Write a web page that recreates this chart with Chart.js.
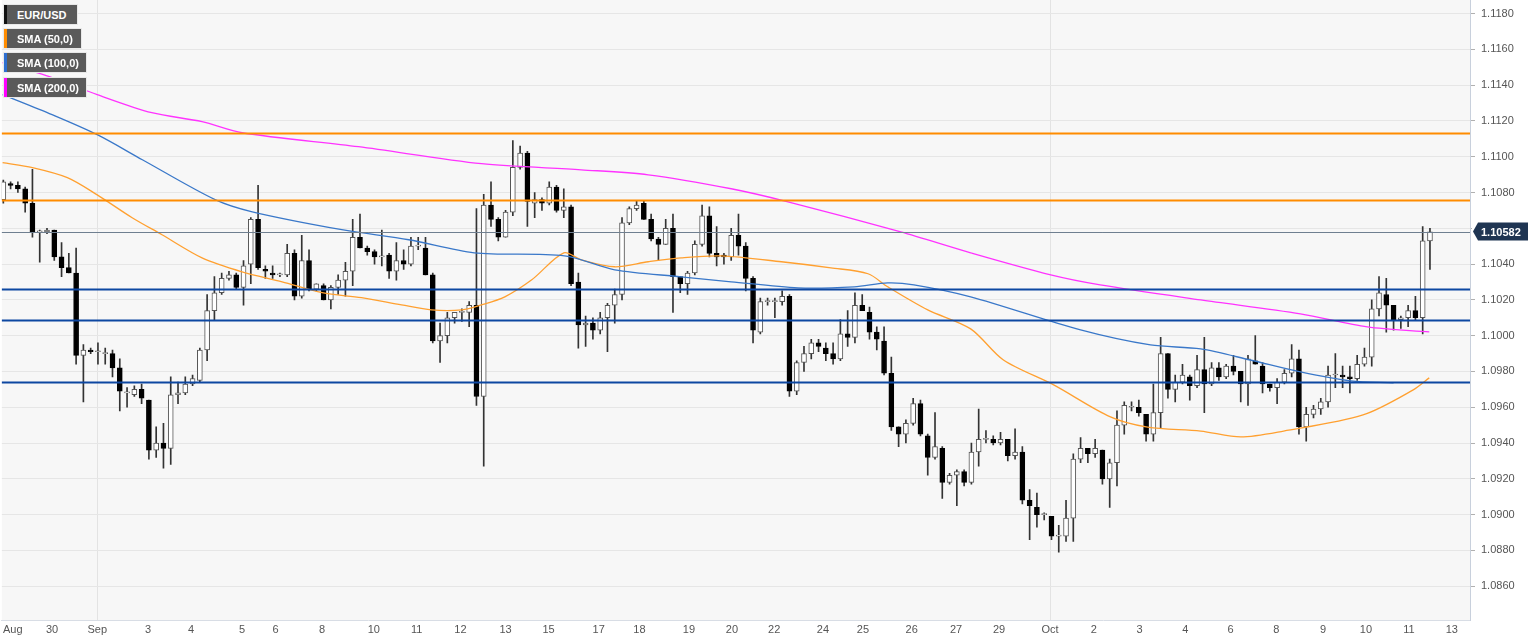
<!DOCTYPE html>
<html><head><meta charset="utf-8">
<script src="https://cdn.jsdelivr.net/npm/chart.js@4/dist/chart.umd.min.js"></script>
<style>
html,body{margin:0;padding:0;background:#fff;}
#wrap{position:relative;width:1536px;height:641px;overflow:hidden;}
#c{position:absolute;left:0px;top:-13px;}
.lg{position:absolute;left:4px;height:19px;display:flex;align-items:center;background:#5a5a5a;color:#fff;font:bold 11px "Liberation Sans",Arial,sans-serif;padding:0 0 0 10px;box-sizing:border-box;border-left:3px solid #000;outline:1px solid #e8e8e8;}
</style></head><body>
<div id="wrap"><canvas id="c" width="1536" height="654"></canvas>
<div class="lg" style="top:5px;width:73px;border-left-color:#111">EUR/USD</div>
<div class="lg" style="top:29px;width:77px;border-left-color:#ff8c00">SMA (50,0)</div>
<div class="lg" style="top:53px;width:82px;border-left-color:#2f6fd0">SMA (100,0)</div>
<div class="lg" style="top:78px;width:82px;border-left-color:#ff00ff">SMA (200,0)</div>
</div>
<script>
const opens=[1.1076,1.1085,1.1084,1.1082,1.1074,1.1058,1.1058,1.1059,1.1044,1.1038,
1.1035,1.0989,1.0992,1.0991,1.0990,1.0990,1.0982,1.0968,1.0967,1.0970,
1.0964,1.0936,1.0940,1.0937,1.0967,1.0968,1.0973,1.0975,1.0992,1.1014,
1.1024,1.1032,1.1034,1.1027,1.1040,1.1065,1.1037,1.1035,1.1034,1.1034,
1.1046,1.1022,1.1042,1.1026,1.1028,1.1020,1.1027,1.1031,1.1036,1.1055,
1.1049,1.1047,1.1044,1.1045,1.1036,1.1042,1.1040,1.1050,1.1049,1.1034,
1.0997,1.1000,1.1010,1.1013,1.1013,1.1017,1.0966,1.1073,1.1065,1.1055,
1.1069,1.1094,1.1102,1.1074,1.1076,1.1074,1.1083,1.1070,1.1072,1.1030,
1.1006,1.1007,1.1003,1.1010,1.1017,1.1023,1.1063,1.1071,1.1074,1.1065,
1.1054,1.1051,1.1060,1.1033,1.1029,1.1035,1.1051,1.1067,1.1046,1.1045,
1.1044,1.1056,1.1050,1.1032,1.1002,1.1019,1.1019,1.1019,1.1022,1.0969,
1.0985,1.0990,1.0996,1.0993,1.0990,1.0987,1.1001,1.0999,1.1017,1.1013,
1.1002,1.0997,1.0979,1.0949,1.0945,1.0951,1.0962,1.0944,1.0932,1.0937,
1.0918,1.0922,1.0924,1.0918,1.0935,1.0942,1.0942,1.0940,1.0942,1.0933,
1.0935,1.0908,1.0904,1.0900,1.0899,1.0888,1.0888,1.0898,1.0931,1.0937,
1.0934,1.0936,1.0920,1.0929,1.0950,1.0960,1.0960,1.0956,1.0945,1.0957,
1.0990,1.0970,1.0974,1.0977,1.0972,1.0981,1.0973,1.0982,1.0977,1.0983,
1.0980,1.0973,1.0986,1.0983,1.0973,1.0971,1.0974,1.0979,1.0987,1.0949,
1.0956,1.0959,1.0963,1.0978,1.0978,1.0977,1.0976,1.0984,1.0988,1.1015,
1.1023,1.1017,1.1009,1.1010,1.1014,1.1010,1.1053];
const highs=[1.1087,1.1086,1.1086,1.1083,1.1093,1.1059,1.1060,1.1059,1.1052,1.1046,
1.1049,1.0995,1.0993,1.0996,1.0993,1.0992,1.0987,1.0971,1.0972,1.0973,
1.0964,1.0949,1.0951,1.0977,1.0974,1.0977,1.0978,1.0993,1.1023,1.1033,
1.1035,1.1036,1.1035,1.1042,1.1066,1.1084,1.1039,1.1039,1.1035,1.1051,
1.1048,1.1056,1.1048,1.1029,1.1029,1.1028,1.1034,1.1041,1.1065,1.1068,
1.1050,1.1048,1.1059,1.1046,1.1052,1.1048,1.1055,1.1055,1.1055,1.1035,
1.1007,1.1013,1.1013,1.1015,1.1019,1.1071,1.1079,1.1086,1.1066,1.1070,
1.1109,1.1106,1.1103,1.1080,1.1077,1.1086,1.1084,1.1082,1.1073,1.1035,
1.1011,1.1010,1.1013,1.1018,1.1026,1.1066,1.1072,1.1075,1.1075,1.1068,
1.1055,1.1065,1.1068,1.1033,1.1036,1.1053,1.1073,1.1072,1.1061,1.1046,
1.1060,1.1068,1.1052,1.1033,1.1021,1.1021,1.1021,1.1025,1.1023,1.0986,
1.0994,1.0998,1.0998,1.0996,1.0996,1.1009,1.1014,1.1024,1.1023,1.1016,
1.1005,1.1005,1.0988,1.0949,1.0953,1.0965,1.0964,1.0945,1.0957,1.0938,
1.0923,1.0925,1.0925,1.0940,1.0959,1.0947,1.0944,1.0946,1.0942,1.0948,
1.0938,1.0914,1.0912,1.0901,1.0899,1.0894,1.0908,1.0934,1.0943,1.0937,
1.0942,1.0936,1.0931,1.0958,1.0963,1.0963,1.0964,1.0956,1.0973,1.0999,
1.0990,1.0978,1.0984,1.0978,1.0989,1.0999,1.0985,1.0985,1.0984,1.0989,
1.0980,1.0989,1.1000,1.0985,1.0973,1.0976,1.0981,1.0995,1.0992,1.0960,
1.0961,1.0965,1.0983,1.0990,1.0983,1.0983,1.0989,1.0993,1.1020,1.1033,
1.1032,1.1017,1.1011,1.1017,1.1022,1.1061,1.1060];
const lows=[1.1074,1.1082,1.1080,1.1069,1.1055,1.1041,1.1057,1.1042,1.1033,1.1035,
1.0984,1.0963,1.0990,1.0984,1.0984,1.0977,1.0958,1.0960,1.0966,1.0962,
1.0931,1.0932,1.0926,1.0928,1.0962,1.0967,1.0972,1.0974,1.0986,1.1009,
1.1023,1.1031,1.1026,1.1017,1.1029,1.1037,1.1032,1.1032,1.1033,1.1033,
1.1020,1.1021,1.1025,1.1025,1.1020,1.1015,1.1023,1.1022,1.1028,1.1049,
1.1045,1.1040,1.1039,1.1032,1.1031,1.1037,1.1039,1.1048,1.1034,1.0996,
1.0985,1.0996,1.1007,1.1008,1.1005,1.0961,1.0927,1.1061,1.1053,1.1055,
1.1067,1.1093,1.1061,1.1066,1.1070,1.1073,1.1069,1.1066,1.1028,1.0993,
1.0994,1.0998,1.1001,1.0991,1.1007,1.1020,1.1062,1.1070,1.1065,1.1053,
1.1042,1.1051,1.1013,1.1024,1.1023,1.1034,1.1050,1.1044,1.1039,1.1040,
1.1042,1.1045,1.1025,1.0996,1.1001,1.1017,1.1010,1.1017,1.0966,1.0967,
1.0980,1.0987,1.0991,1.0986,1.0984,1.0986,1.0994,1.0996,1.1014,1.0998,
1.0992,1.0978,1.0947,1.0938,1.0940,1.0950,1.0944,1.0922,1.0931,1.0909,
1.0917,1.0905,1.0916,1.0917,1.0927,1.0940,1.0939,1.0939,1.0930,1.0931,
1.0906,1.0886,1.0893,1.0897,1.0886,1.0879,1.0885,1.0885,1.0929,1.0929,
1.0932,1.0917,1.0904,1.0916,1.0945,1.0958,1.0955,1.0941,1.0941,1.0948,
1.0965,1.0963,1.0973,1.0964,1.0971,1.0957,1.0972,1.0975,1.0976,1.0978,
1.0963,1.0961,1.0984,1.0968,1.0969,1.0962,1.0973,1.0977,1.0945,1.0941,
1.0954,1.0956,1.0960,1.0971,1.0971,1.0968,1.0975,1.0983,1.0983,1.1011,
1.1002,1.1003,1.1004,1.1005,1.1009,1.1001,1.1037];
const closes=[1.1086,1.1084,1.1082,1.1074,1.1058,1.1058,1.1059,1.1044,1.1038,1.1035,
1.0989,1.0992,1.0991,1.0991,1.0990,1.0982,1.0969,1.0968,1.0970,1.0965,
1.0936,1.0940,1.0937,1.0967,1.0968,1.0973,1.0976,1.0992,1.1014,1.1024,
1.1032,1.1034,1.1027,1.1039,1.1065,1.1038,1.1036,1.1034,1.1034,1.1046,
1.1022,1.1042,1.1026,1.1029,1.1020,1.1027,1.1031,1.1036,1.1055,1.1049,
1.1047,1.1044,1.1044,1.1036,1.1042,1.1040,1.1050,1.1050,1.1034,1.0997,
1.1000,1.1010,1.1013,1.1013,1.1017,1.0966,1.1073,1.1065,1.1055,1.1069,
1.1094,1.1102,1.1075,1.1076,1.1074,1.1083,1.1070,1.1072,1.1029,1.1006,
1.1007,1.1003,1.1010,1.1017,1.1023,1.1063,1.1071,1.1073,1.1065,1.1054,
1.1051,1.1060,1.1033,1.1029,1.1035,1.1051,1.1067,1.1046,1.1044,1.1044,
1.1056,1.1050,1.1032,1.1003,1.1019,1.1019,1.1019,1.1022,1.0969,1.0985,
1.0990,1.0996,1.0994,1.0990,1.0987,1.1001,1.0999,1.1017,1.1014,1.1002,
1.0998,1.0979,1.0949,1.0945,1.0951,1.0962,1.0945,1.0932,1.0938,1.0918,
1.0922,1.0924,1.0918,1.0935,1.0942,1.0942,1.0940,1.0942,1.0933,1.0935,
1.0908,1.0905,1.0900,1.0900,1.0888,1.0888,1.0898,1.0931,1.0937,1.0934,
1.0937,1.0920,1.0929,1.0950,1.0961,1.0960,1.0957,1.0945,1.0957,1.0990,
1.0970,1.0974,1.0978,1.0972,1.0981,1.0973,1.0982,1.0977,1.0983,1.0980,
1.0973,1.0987,1.0984,1.0973,1.0971,1.0974,1.0979,1.0987,1.0949,1.0956,
1.0959,1.0963,1.0978,1.0978,1.0977,1.0976,1.0984,1.0988,1.1015,1.1024,
1.1017,1.1009,1.1010,1.1014,1.1010,1.1053,1.1058];

// moving averages: [candle index, value]
const sma50=[[-0.1,1.10967],[4,1.10939],[8.8,1.10883],[12.9,1.10787],[17.7,1.10659],[21.8,1.10564],[27.3,1.10435],[32.8,1.10357],[38.3,1.10301],[43.8,1.1024],[49.2,1.10212],[54.7,1.10172],[58.8,1.10144],[63,1.10144],[65.7,1.10172],[68.9,1.10217],[72.6,1.10312],[77,1.10463],[79.4,1.10424],[84,1.10385],[88.6,1.10413],[93.1,1.10435],[98.6,1.10446],[106.9,1.10413],[113.7,1.10379],[118.8,1.10346],[121.5,1.10273],[127,1.10144],[132.9,1.10038],[137.4,1.09864],[144.3,1.09725],[152.1,1.09546],[157.2,1.09489],[164.5,1.09467],[170,1.09434],[175.9,1.09467],[186.8,1.09557],[193.7,1.09697],[195.9,1.09764]];
const sma100=[[-0.1,1.11347],[6.7,1.11235],[12.9,1.11123],[19.1,1.10983],[29.1,1.1076],[34.2,1.10692],[46.5,1.10592],[55.7,1.10536],[64.7,1.10463],[77.1,1.10446],[84,1.10368],[93.1,1.10329],[100,1.10301],[109.2,1.10267],[116.9,1.10273],[121.5,1.10295],[125.1,1.10284],[132.9,1.10217],[148,1.10032],[157.6,1.09948],[164.5,1.09926],[171.3,1.09864],[178.2,1.09797],[185.1,1.09747],[191,1.09736]];
const sma200=[[-0.1,1.11526],[6.7,1.11442],[12.9,1.11347],[20.4,1.11246],[27.3,1.11196],[32.8,1.11134],[48.8,1.11056],[65.7,1.10961],[79.4,1.10927],[88.6,1.10899],[100,1.10821],[107.8,1.10748],[123.3,1.1058],[132.9,1.10463],[143.9,1.1034],[150.7,1.10284],[164.5,1.102],[178.2,1.10122],[187.4,1.10049],[195.9,1.10021]];

const levelsOrange=[1.1113,1.1076];
const levelsBlue=[1.1026,1.1009,1.0974];
const lastPrice=1.10582;
const yTicks=[1.0860,1.0880,1.0900,1.0920,1.0940,1.0960,1.0980,1.1000,1.1020,1.1040,1.1060,1.1080,1.1100,1.1120,1.1140,1.1160,1.1180];
const xTickPos=[1.3,6.7,12.9,19.9,25.8,32.8,37.4,43.8,50.9,56.8,62.8,69,74.9,81.8,87.4,94.2,100.1,105.9,112.6,118.1,124.8,130.9,136.8,143.8,149.8,156.1,162.4,168.6,174.9,181.3,187.2,193.1,199];
const xTickLabels=["Aug","30","Sep","3","4","5","6","8","10","11","12","13","15","17","18","19","20","22","24","25","26","27","29","Oct","2","3","4","6","8","9","10","11","13"];
const monthTicks=["Sep","Oct"];

const bull=opens.map((o,i)=>closes[i]>=o);
const wick=highs.map((h,i)=>({x:i,y:[lows[i],h]}));
const body=opens.map((o,i)=>({x:i,y:[Math.min(o,closes[i]),Math.max(o,closes[i])]}));
const toXY=a=>a.map(p=>({x:p[0],y:p[1]}));

const overlay={id:'ov',
 afterDatasetsDraw(ch){
  const c=ch.ctx,a=ch.chartArea,y=ch.scales.y;
  c.save();
  const hl=(v,col,w)=>{const py=Math.round(y.getPixelForValue(v))+0.5;c.strokeStyle=col;c.lineWidth=w;c.beginPath();c.moveTo(a.left,py);c.lineTo(a.right,py);c.stroke();};
  hl(lastPrice,'#6f7f90',1);
  levelsOrange.forEach(v=>hl(v,'#ff8c00',2));
  levelsBlue.forEach(v=>hl(v,'#0d47a1',2));
  c.restore();
 },
 afterDraw(ch){
  const c=ch.ctx,a=ch.chartArea,y=ch.scales.y;
  const py=y.getPixelForValue(lastPrice);
  c.save();
  c.fillStyle='#fff';c.fillRect(a.right+2,py-12,64,24);
  c.fillStyle='#1f3552';
  c.beginPath();c.moveTo(a.right+3,py);c.lineTo(a.right+8,py-9);c.lineTo(a.right+58,py-9);c.lineTo(a.right+58,py+9);c.lineTo(a.right+8,py+9);c.closePath();c.fill();
  c.fillStyle='#fff';c.font='bold 11px "Liberation Sans", Arial, sans-serif';c.textBaseline='middle';c.textAlign='left';
  c.fillText(lastPrice.toFixed(5),a.right+11,py+1);
  c.restore();
 }};

new Chart(document.getElementById('c'),{
 data:{datasets:[
  {type:'line',data:toXY(sma200),borderColor:'#ff33ff',borderWidth:1.3,pointRadius:0,tension:0.3,order:0},
  {type:'line',data:toXY(sma100),borderColor:'#3a78c9',borderWidth:1.3,pointRadius:0,tension:0.3,order:0},
  {type:'line',data:toXY(sma50),borderColor:'#ffa030',borderWidth:1.3,pointRadius:0,tension:0.3,order:0},
  {type:'bar',data:body,grouped:false,barThickness:5,minBarLength:1,
   backgroundColor:bull.map(b=>b?'#ffffff':'#000000'),borderColor:bull.map(b=>b?'#555555':'#000000'),borderWidth:1,borderSkipped:false,order:1},
  {type:'bar',data:wick,grouped:false,barThickness:1,backgroundColor:'#333333',borderWidth:0,order:2}
 ]},
 options:{responsive:false,animation:false,parsing:true,
  layout:{padding:0},
  plugins:{legend:{display:false},tooltip:{enabled:false}},
  scales:{
   x:{type:'linear',min:-0.2,max:201.5,offset:false,
     afterBuildTicks(s){s.ticks=xTickPos.map(v=>({value:v}));},
     afterFit(s){s.height=21;},
     ticks:{autoSkip:false,maxRotation:0,color:'#555',font:{size:11,family:'"Liberation Sans", Arial'},padding:3,
       callback:(v,i)=>xTickLabels[i]},
     grid:{offset:false,drawTicks:false,color:ctx=>monthTicks.includes(xTickLabels[ctx.index])?'#e3e3e3':'rgba(0,0,0,0)'},
     border:{color:'#d8dde5'}},
   y:{position:'right',min:1.08411,max:1.11878,
     afterBuildTicks(s){s.ticks=yTicks.map(v=>({value:v}));},
     afterFit(s){s.width=66;},
     ticks:{color:'#555',font:{size:11,family:'"Liberation Sans", Arial'},padding:6,callback:v=>v.toFixed(4)},
     grid:{color:'#e6e6e6',tickLength:5,tickColor:'#b0b0b0'},
     border:{color:'#c8d0dc'}}
  }},
 plugins:[{id:'bg',beforeDraw(ch){const a=ch.chartArea,c=ch.ctx;c.save();c.fillStyle='#f7f7f7';c.fillRect(a.left,a.top,a.right-a.left,a.bottom-a.top);c.restore();}},overlay]
});
</script></body></html>
